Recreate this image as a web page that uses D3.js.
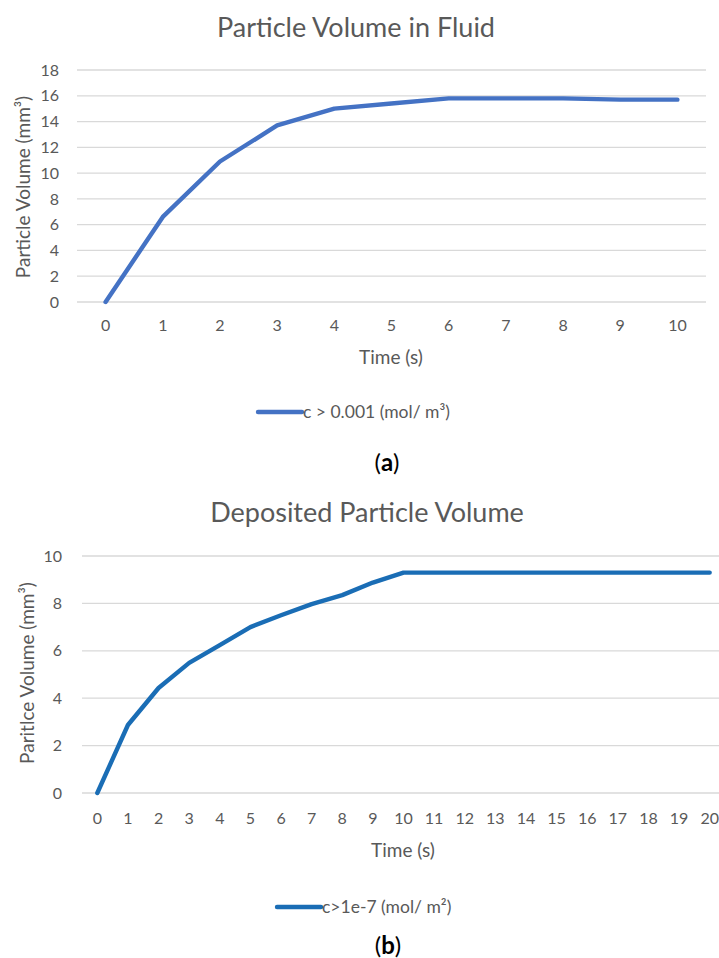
<!DOCTYPE html>
<html>
<head>
<meta charset="utf-8">
<script src="https://cdn.jsdelivr.net/npm/d3@7"></script>
<style>
  html, body { margin: 0; padding: 0; background: #fff; }
  svg { display: block; }
  text { font-family: Lato, "Open Sans", sans-serif; }
</style>
</head>
<body>
<svg id="chart" width="719" height="958"></svg>
<script>
// ---- Data ----
const timeA = ["0","1","2","3","4","5","6","7","8","9","10"];
const volumeA = [0, 6.6, 10.9, 13.7, 15.0, 15.4, 15.8, 15.8, 15.8, 15.7, 15.7];
const yTicksA = [0, 2, 4, 6, 8, 10, 12, 14, 16, 18];

const timeB = ["0","1","2","3","4","5","6","7","8","9","10","11","12","13","14","15","16","17","18","19","20"];
const volumeB = [0, 2.87, 4.43, 5.49, 6.24, 7.0, 7.5, 7.97, 8.35, 8.88, 9.3, 9.3, 9.3, 9.3, 9.3, 9.3, 9.3, 9.3, 9.3, 9.3, 9.3];
const yTicksB = [0, 2, 4, 6, 8, 10];

const titleA = "Particle Volume in Fluid";
const titleB = "Deposited Particle Volume";
const yLabelA = "Particle Volume (mm³)";
const yLabelB = "Paritlce Volume (mm³)";
const xLabel = "Time (s)";
const legendA = "c > 0.001 (mol/ m³)";
const legendB = "c>1e-7 (mol/ m²)";

const svg = d3.select("#chart");
svg.append("rect").attr("width", 719).attr("height", 958).attr("fill", "#fff");

const textColor = "#595959";
const gridColor = "#d9d9d9";

function drawChart(cfg) {
  const g = svg.append("g");
  const x = d3.scaleBand().domain(cfg.cats).range(cfg.xRange).paddingInner(0).paddingOuter(0);
  const y = d3.scaleLinear().domain([0, cfg.yMax]).range(cfg.yRange);

  // grid lines
  g.append("g").selectAll("line").data(cfg.yTicks).join("line")
    .attr("x1", cfg.xRange[0]).attr("x2", cfg.xRange[1])
    .attr("y1", d => y(d)).attr("y2", d => y(d))
    .attr("stroke", gridColor).attr("stroke-width", 1.3);

  // y axis labels
  const ya = g.append("g").attr("transform", `translate(${cfg.yLabelRight},0)`)
    .call(d3.axisLeft(y).tickValues(cfg.yTicks).tickSize(0).tickPadding(0));
  ya.select(".domain").remove();
  ya.selectAll("text").attr("fill", textColor).attr("font-size", cfg.tickFont)
    .attr("font-family", "Lato, sans-serif");

  // x axis labels
  const xa = g.append("g").attr("transform", `translate(0,${cfg.xLabelY})`)
    .call(d3.axisBottom(x).tickSize(0).tickPadding(0));
  xa.select(".domain").remove();
  xa.selectAll("text").attr("fill", textColor).attr("font-size", cfg.tickFont)
    .attr("font-family", "Lato, sans-serif").attr("dy", "0.35em").attr("y", 0);

  // line
  const line = d3.line()
    .x((d, i) => x(cfg.cats[i]) + x.bandwidth() / 2)
    .y(d => y(d));
  g.append("path").datum(cfg.values)
    .attr("d", line).attr("fill", "none")
    .attr("stroke", cfg.color).attr("stroke-width", 4.4)
    .attr("stroke-linejoin", "round").attr("stroke-linecap", "round");

  // title
  g.append("text").attr("x", cfg.titlePos[0]).attr("y", cfg.titlePos[1])
    .attr("text-anchor", "middle").attr("font-size", cfg.titleFont)
    .attr("fill", textColor).text(cfg.title);

  // y title
  g.append("text")
    .attr("transform", `translate(${cfg.yTitlePos[0]},${cfg.yTitlePos[1]}) rotate(-90)`)
    .attr("text-anchor", "middle").attr("dy", "0.35em").attr("font-size", 19)
    .attr("fill", textColor).text(cfg.yLabel);

  // x title
  g.append("text").attr("x", cfg.xTitlePos[0]).attr("y", cfg.xTitlePos[1])
    .attr("text-anchor", "middle").attr("dy", "0.35em").attr("font-size", 19)
    .attr("fill", textColor).text(xLabel);

  // legend
  g.append("line")
    .attr("x1", cfg.legendPos[0]).attr("x2", cfg.legendPos[0] + 44)
    .attr("y1", cfg.legendPos[1]).attr("y2", cfg.legendPos[1])
    .attr("stroke", cfg.color).attr("stroke-width", 4.4).attr("stroke-linecap", "round");
  g.append("text").attr("x", cfg.legendPos[0] + 45).attr("y", cfg.legendPos[1])
    .attr("dy", "0.35em").attr("font-size", 17.5).attr("fill", textColor).text(cfg.legend);

  // caption
  const cap = g.append("text").attr("x", cfg.capPos[0]).attr("y", cfg.capPos[1])
    .attr("text-anchor", "middle").attr("font-size", 24)
    .attr("font-family", "'Liberation Serif', 'DejaVu Serif', serif").attr("fill", "#000");
  cap.append("tspan").text("(");
  cap.append("tspan").attr("font-weight", "bold").text(cfg.capLetter);
  cap.append("tspan").text(")");
}

drawChart({
  cats: timeA, values: volumeA, yTicks: yTicksA, yMax: 18,
  xRange: [77, 706], yRange: [302, 70],
  yLabelRight: 59, xLabelY: 325, tickFont: 16,
  color: "#4472C4",
  title: titleA, titlePos: [356, 37], titleFont: 27,
  yLabel: yLabelA, yTitlePos: [23, 187],
  xTitlePos: [391, 357],
  legend: legendA, legendPos: [258, 412],
  capPos: [387, 471], capLetter: "a"
});

drawChart({
  cats: timeB, values: volumeB, yTicks: yTicksB, yMax: 10,
  xRange: [82, 725], yRange: [793, 556],
  yLabelRight: 62, xLabelY: 818, tickFont: 16,
  color: "#1A6DB5",
  title: titleB, titlePos: [367, 522], titleFont: 27,
  yLabel: yLabelB, yTitlePos: [27, 673],
  xTitlePos: [403, 850],
  legend: legendB, legendPos: [277, 907],
  capPos: [388, 954], capLetter: "b"
});
</script>
</body>
</html>
